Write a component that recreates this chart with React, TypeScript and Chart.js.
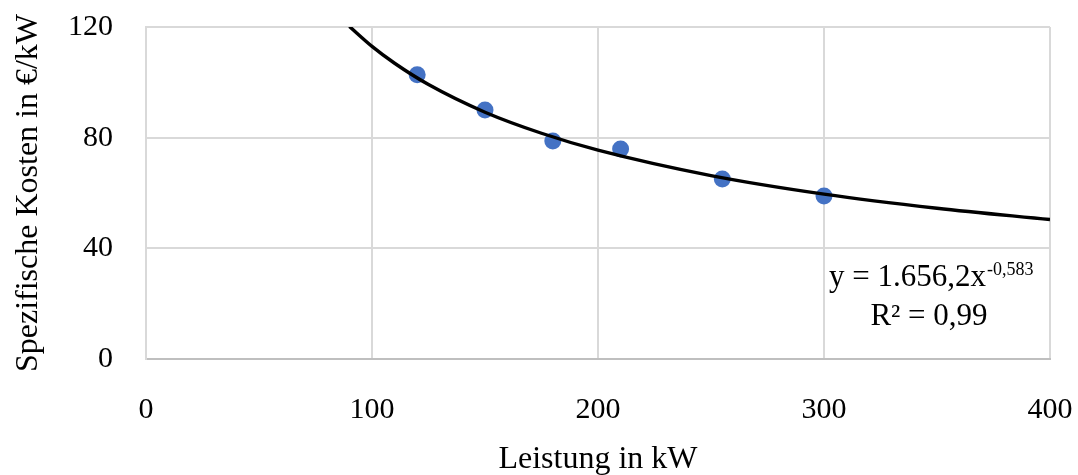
import React, { useEffect, useRef } from "react";
import { Chart, registerables } from "chart.js";

Chart.register(...registerables);

// Measured data points (Leistung in kW, spezifische Kosten in €/kW)
const powerKW = [120, 150, 180, 210, 255, 300];
const costPerKW = [102.7, 90.0, 78.8, 75.9, 65.1, 58.9];

// Trend curve
const trendX = [90, 100, 110, 125, 150, 175, 200, 250, 300, 350, 400];
const trendY = [120.2, 113.0, 106.9, 99.2, 89.2, 81.6, 75.5, 66.3, 59.6, 54.5, 50.4];

const xTicks = [0, 100, 200, 300, 400];
const yTicks = [0, 40, 80, 120];

const equationText = "y = 1.656,2x";
const equationExp = "-0,583";
const r2Text = "R\u00B2 = 0,99";

const xTitle = "Leistung in kW";
const yTitle = "Spezifische Kosten in \u20AC/kW";

const FONT = "'Liberation Serif', 'Times New Roman', serif";

export default function App() {
  const ref = useRef<HTMLCanvasElement | null>(null);

  useEffect(() => {
    document.body.style.margin = "0";
    const canvas = ref.current;
    if (!canvas) return;

    const annotation = {
      id: "trendAnnotation",
      afterDraw(chart: any) {
        const ctx = chart.ctx;
        const area = chart.chartArea;
        ctx.save();
        ctx.fillStyle = "#000";
        ctx.textBaseline = "alphabetic";
        ctx.font = `31px ${FONT}`;
        ctx.textAlign = "right";
        const mainRight = area.right - 64;
        ctx.fillText(equationText, mainRight, area.top + 259);
        ctx.font = `18px ${FONT}`;
        ctx.textAlign = "left";
        ctx.fillText(equationExp, mainRight + 1, area.top + 248);
        ctx.font = `31px ${FONT}`;
        ctx.textAlign = "center";
        ctx.fillText(r2Text, area.right - 121, area.top + 298);
        ctx.restore();
      },
    };

    const zeroPad = (s: any) => {
      s.paddingLeft = 0;
      s.paddingRight = 0;
      s.paddingTop = 0;
      s.paddingBottom = 0;
    };

    const chart = new Chart(canvas, {
      type: "scatter",
      data: {
        datasets: [
          {
            type: "line",
            data: trendX.map((x, i) => ({ x, y: trendY[i] })),
            borderColor: "#000000",
            borderWidth: 3.4,
            pointRadius: 0,
            fill: false,
            cubicInterpolationMode: "monotone",
          } as any,
          {
            data: powerKW.map((x, i) => ({ x, y: costPerKW[i] })),
            backgroundColor: "#4472C4",
            borderColor: "#4472C4",
            pointRadius: 8.5,
            pointBorderWidth: 0,
          },
        ],
      },
      options: {
        responsive: false,
        animation: false,
        layout: { padding: { top: 27, right: 28, left: 0, bottom: 0 } },
        plugins: {
          legend: { display: false },
          tooltip: { enabled: false },
        },
        scales: {
          x: {
            type: "linear",
            min: 0,
            max: 400,
            afterBuildTicks: (s: any) => {
              s.ticks = xTicks.map((v) => ({ value: v }));
            },
            afterFit: (s: any) => {
              s.height = 116;
              zeroPad(s);
            },
            grid: { color: "#d9d9d9", lineWidth: 2, drawTicks: false },
            border: { color: "#bfbfbf", width: 2 },
            ticks: {
              padding: 33,
              color: "#000",
              font: { family: FONT, size: 30 },
            },
            title: {
              display: true,
              text: xTitle,
              color: "#000",
              font: { family: FONT, size: 32, lineHeight: 1 },
              padding: { top: 0, bottom: -1 },
            },
          },
          y: {
            type: "linear",
            min: 0,
            max: 120,
            afterBuildTicks: (s: any) => {
              s.ticks = yTicks.map((v) => ({ value: v }));
            },
            afterFit: (s: any) => {
              s.width = 146;
              zeroPad(s);
            },
            grid: { color: "#d9d9d9", lineWidth: 2, drawTicks: false },
            border: { color: "#d9d9d9", width: 2 },
            ticks: {
              padding: 33,
              color: "#000",
              font: { family: FONT, size: 30 },
            },
            title: {
              display: true,
              text: yTitle,
              color: "#000",
              font: { family: FONT, size: 32, lineHeight: 1.2 },
              padding: { top: 9, bottom: 0 },
            },
          },
        },
      },
      plugins: [annotation],
    });

    return () => chart.destroy();
  }, []);

  return (
    <div style={{ width: 1078, height: 475 }}>
      <canvas ref={ref} width={1078} height={475} style={{ display: "block" }} />
    </div>
  );
}
